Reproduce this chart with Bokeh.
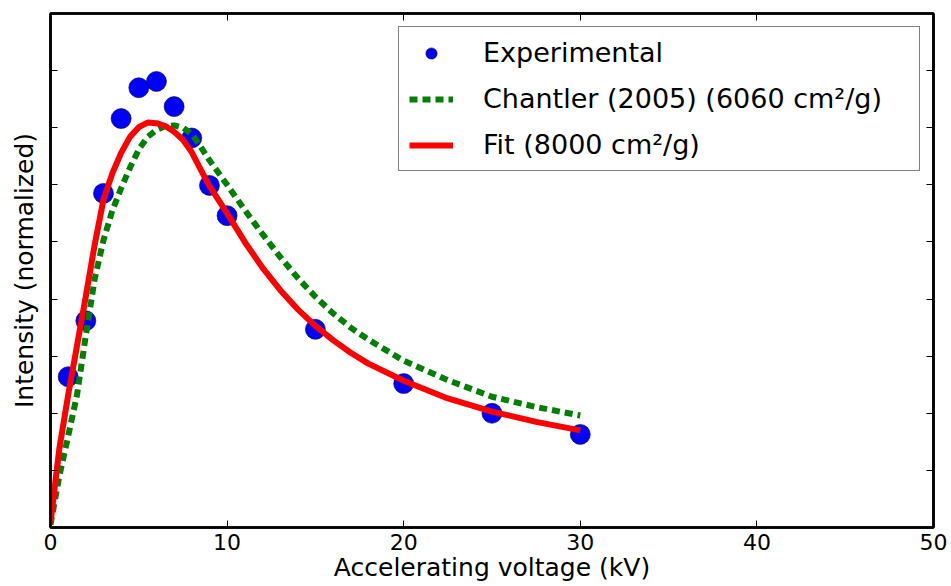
from bokeh.plotting import figure
from bokeh.models import (FixedTicker, LinearAxis, Legend, LegendItem, Range1d,
                          CustomLabelingPolicy)
from bokeh.embed import file_html
from bokeh.resources import INLINE

# Experimental points
exp_kv = [1, 2, 3, 4, 5, 6, 7, 8, 9, 10, 15, 20, 25, 30]
exp_int = [0.264, 0.362, 0.585, 0.716, 0.770, 0.781, 0.737, 0.682, 0.599, 0.546,
           0.347, 0.252, 0.200, 0.163]

# Chantler (2005) curve
ch_kv = [0, 0.5, 1, 1.5, 2, 2.5, 3, 3.5, 4, 4.5, 5, 5.5, 6, 6.5, 7, 7.5, 8, 8.5, 9, 10,
         11, 12, 13, 14, 15, 16, 17, 18, 20, 22.5, 25, 27.5, 30]
ch_int = [0.005, 0.090, 0.160, 0.232, 0.336, 0.435, 0.503, 0.555, 0.594, 0.630,
          0.662, 0.684, 0.696, 0.703, 0.704, 0.700, 0.689, 0.667, 0.643, 0.600,
          0.556, 0.514, 0.474, 0.437, 0.404, 0.375, 0.350, 0.329, 0.292, 0.258,
          0.229, 0.211, 0.196]

# Fit curve
fit_kv = [0, 0.5, 1, 1.5, 2, 2.5, 3, 3.5, 4, 4.5, 5, 5.5, 6, 6.5, 7, 7.5, 8, 8.5, 9, 10,
          11, 12, 13, 14, 15, 16, 17, 18, 20, 22.5, 25, 27.5, 30]
fit_int = [0.008, 0.138, 0.232, 0.318, 0.405, 0.495, 0.574, 0.620, 0.656, 0.684,
           0.701, 0.709, 0.708, 0.703, 0.693, 0.679, 0.657, 0.627, 0.598, 0.550,
           0.500, 0.455, 0.416, 0.382, 0.353, 0.328, 0.306, 0.287, 0.257, 0.226,
           0.203, 0.185, 0.170]

x_ticks = [0, 10, 20, 30, 40, 50]
y_ticks = [0.0, 0.1, 0.2, 0.3, 0.4, 0.5, 0.6, 0.7, 0.8, 0.9]

FONT = "DejaVu Sans"

p = figure(width=951, height=586, x_range=Range1d(0, 50), y_range=Range1d(0, 0.9),
           output_backend="svg", toolbar_location=None,
           min_border_left=50, min_border_right=18, min_border_top=13, min_border_bottom=59)
p.grid.visible = False
p.outline_line_color = "black"
p.outline_line_width = 2.5

sc = p.scatter(exp_kv, exp_int, size=20, marker="circle", fill_color="#0000ff",
               line_color="#000033", line_width=0.6)
gl = p.line(ch_kv, ch_int, line_color="#008000", line_width=6, line_dash="8 5")
rl = p.line(fit_kv, fit_int, line_color="#ff0000", line_width=6)

no_labels = CustomLabelingPolicy(code="for (const i of indices) { indices.unset(i) } return indices")

def style_axis(ax, show_labels):
    ax.axis_line_color = "black"
    ax.axis_line_width = 2.5
    ax.major_tick_in = 7
    ax.major_tick_out = 0
    ax.major_tick_line_color = "black"
    ax.major_tick_line_width = 1
    ax.minor_tick_line_color = None
    if show_labels:
        ax.major_label_text_font = FONT
        ax.major_label_text_font_size = "22px"
        ax.major_label_text_color = "black"
        ax.major_label_standoff = 6
    else:
        ax.major_label_policy = no_labels
        ax.major_label_text_font_size = "0px"
        ax.major_label_standoff = 0

xa = p.xaxis[0]
xa.ticker = FixedTicker(ticks=x_ticks)
style_axis(xa, True)
xa.axis_label = "Accelerating voltage (kV)"
xa.axis_label_text_font = FONT
xa.axis_label_text_font_size = "25px"
xa.axis_label_text_font_style = "normal"
xa.axis_label_text_color = "black"
xa.axis_label_standoff = 0

ya = p.yaxis[0]
ya.ticker = FixedTicker(ticks=y_ticks)
style_axis(ya, False)
ya.axis_label = "Intensity (normalized)"
ya.axis_label_text_font = FONT
ya.axis_label_text_font_size = "25px"
ya.axis_label_text_font_style = "normal"
ya.axis_label_text_color = "black"
ya.axis_label_standoff = 12

ra = LinearAxis(ticker=FixedTicker(ticks=y_ticks))
style_axis(ra, False)
p.add_layout(ra, "right")
ta = LinearAxis(ticker=FixedTicker(ticks=x_ticks))
style_axis(ta, False)
p.add_layout(ta, "above")

legend = Legend(items=[
    LegendItem(label="Experimental", renderers=[sc]),
    LegendItem(label="Chantler (2005) (6060 cm²/g)", renderers=[gl]),
    LegendItem(label="Fit (8000 cm²/g)", renderers=[rl]),
], location="top_right")
legend.border_line_color = "black"
legend.border_line_width = 1
legend.background_fill_color = "white"
legend.background_fill_alpha = 1
legend.label_text_font = FONT
legend.label_text_font_size = "27px"
legend.label_text_color = "black"
legend.glyph_width = 44
legend.glyph_height = 28
legend.label_height = 28
legend.label_width = 426
legend.label_standoff = 30
legend.padding = 10
legend.spacing = 15
legend.margin = 13
p.add_layout(legend)

open("out.html", "w").write(file_html(p, INLINE))
